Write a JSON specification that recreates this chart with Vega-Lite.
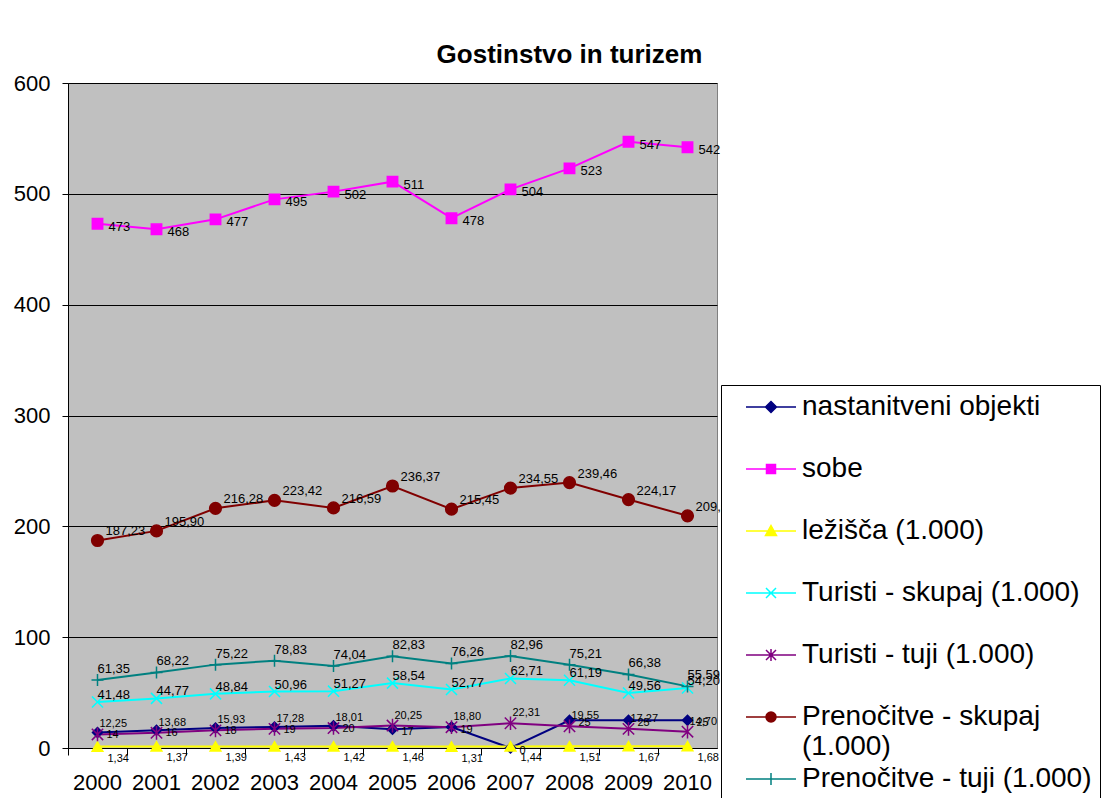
{
  "$schema": "https://vega.github.io/schema/vega-lite/v6.json",
  "width": 649,
  "height": 665,
  "autosize": {"type": "none"},
  "padding": {"left": 68, "top": 83, "right": 395, "bottom": 50},
  "background": "white",
  "title": {"text": "Gostinstvo in turizem", "font": "Liberation Sans", "fontSize": 26, "fontWeight": "bold", "color": "black", "anchor": "middle", "dx": 177, "dy": 37, "offset": 20, "baseline": "alphabetic"},
  "config": {"view": {"fill": "#C0C0C0", "stroke": "#808080", "strokeWidth": 1}, "font": "Liberation Sans"},
  "data": {"values": [
    {"year": "2000", "s": "nastanitveni objekti", "v": 14},
    {"year": "2001", "s": "nastanitveni objekti", "v": 16},
    {"year": "2002", "s": "nastanitveni objekti", "v": 18},
    {"year": "2003", "s": "nastanitveni objekti", "v": 19},
    {"year": "2004", "s": "nastanitveni objekti", "v": 20},
    {"year": "2005", "s": "nastanitveni objekti", "v": 17},
    {"year": "2006", "s": "nastanitveni objekti", "v": 19},
    {"year": "2007", "s": "nastanitveni objekti", "v": 0},
    {"year": "2008", "s": "nastanitveni objekti", "v": 25},
    {"year": "2009", "s": "nastanitveni objekti", "v": 25},
    {"year": "2010", "s": "nastanitveni objekti", "v": 25},
    {"year": "2000", "s": "sobe", "v": 473},
    {"year": "2001", "s": "sobe", "v": 468},
    {"year": "2002", "s": "sobe", "v": 477},
    {"year": "2003", "s": "sobe", "v": 495},
    {"year": "2004", "s": "sobe", "v": 502},
    {"year": "2005", "s": "sobe", "v": 511},
    {"year": "2006", "s": "sobe", "v": 478},
    {"year": "2007", "s": "sobe", "v": 504},
    {"year": "2008", "s": "sobe", "v": 523},
    {"year": "2009", "s": "sobe", "v": 547},
    {"year": "2010", "s": "sobe", "v": 542},
    {"year": "2000", "s": "ležišča (1.000)", "v": 1.34},
    {"year": "2001", "s": "ležišča (1.000)", "v": 1.37},
    {"year": "2002", "s": "ležišča (1.000)", "v": 1.39},
    {"year": "2003", "s": "ležišča (1.000)", "v": 1.43},
    {"year": "2004", "s": "ležišča (1.000)", "v": 1.42},
    {"year": "2005", "s": "ležišča (1.000)", "v": 1.46},
    {"year": "2006", "s": "ležišča (1.000)", "v": 1.31},
    {"year": "2007", "s": "ležišča (1.000)", "v": 1.44},
    {"year": "2008", "s": "ležišča (1.000)", "v": 1.51},
    {"year": "2009", "s": "ležišča (1.000)", "v": 1.67},
    {"year": "2010", "s": "ležišča (1.000)", "v": 1.68},
    {"year": "2000", "s": "Turisti - skupaj (1.000)", "v": 41.48},
    {"year": "2001", "s": "Turisti - skupaj (1.000)", "v": 44.77},
    {"year": "2002", "s": "Turisti - skupaj (1.000)", "v": 48.84},
    {"year": "2003", "s": "Turisti - skupaj (1.000)", "v": 50.96},
    {"year": "2004", "s": "Turisti - skupaj (1.000)", "v": 51.27},
    {"year": "2005", "s": "Turisti - skupaj (1.000)", "v": 58.54},
    {"year": "2006", "s": "Turisti - skupaj (1.000)", "v": 52.77},
    {"year": "2007", "s": "Turisti - skupaj (1.000)", "v": 62.71},
    {"year": "2008", "s": "Turisti - skupaj (1.000)", "v": 61.19},
    {"year": "2009", "s": "Turisti - skupaj (1.000)", "v": 49.56},
    {"year": "2010", "s": "Turisti - skupaj (1.000)", "v": 54.20},
    {"year": "2000", "s": "Turisti - tuji (1.000)", "v": 12.25},
    {"year": "2001", "s": "Turisti - tuji (1.000)", "v": 13.68},
    {"year": "2002", "s": "Turisti - tuji (1.000)", "v": 15.93},
    {"year": "2003", "s": "Turisti - tuji (1.000)", "v": 17.28},
    {"year": "2004", "s": "Turisti - tuji (1.000)", "v": 18.01},
    {"year": "2005", "s": "Turisti - tuji (1.000)", "v": 20.25},
    {"year": "2006", "s": "Turisti - tuji (1.000)", "v": 18.80},
    {"year": "2007", "s": "Turisti - tuji (1.000)", "v": 22.31},
    {"year": "2008", "s": "Turisti - tuji (1.000)", "v": 19.55},
    {"year": "2009", "s": "Turisti - tuji (1.000)", "v": 17.27},
    {"year": "2010", "s": "Turisti - tuji (1.000)", "v": 14.70},
    {"year": "2000", "s": "Prenočitve - skupaj (1.000)", "v": 187.23},
    {"year": "2001", "s": "Prenočitve - skupaj (1.000)", "v": 195.90},
    {"year": "2002", "s": "Prenočitve - skupaj (1.000)", "v": 216.28},
    {"year": "2003", "s": "Prenočitve - skupaj (1.000)", "v": 223.42},
    {"year": "2004", "s": "Prenočitve - skupaj (1.000)", "v": 216.59},
    {"year": "2005", "s": "Prenočitve - skupaj (1.000)", "v": 236.37},
    {"year": "2006", "s": "Prenočitve - skupaj (1.000)", "v": 215.45},
    {"year": "2007", "s": "Prenočitve - skupaj (1.000)", "v": 234.55},
    {"year": "2008", "s": "Prenočitve - skupaj (1.000)", "v": 239.46},
    {"year": "2009", "s": "Prenočitve - skupaj (1.000)", "v": 224.17},
    {"year": "2010", "s": "Prenočitve - skupaj (1.000)", "v": 209.50},
    {"year": "2000", "s": "Prenočitve - tuji (1.000)", "v": 61.35},
    {"year": "2001", "s": "Prenočitve - tuji (1.000)", "v": 68.22},
    {"year": "2002", "s": "Prenočitve - tuji (1.000)", "v": 75.22},
    {"year": "2003", "s": "Prenočitve - tuji (1.000)", "v": 78.83},
    {"year": "2004", "s": "Prenočitve - tuji (1.000)", "v": 74.04},
    {"year": "2005", "s": "Prenočitve - tuji (1.000)", "v": 82.83},
    {"year": "2006", "s": "Prenočitve - tuji (1.000)", "v": 76.26},
    {"year": "2007", "s": "Prenočitve - tuji (1.000)", "v": 82.96},
    {"year": "2008", "s": "Prenočitve - tuji (1.000)", "v": 75.21},
    {"year": "2009", "s": "Prenočitve - tuji (1.000)", "v": 66.38},
    {"year": "2010", "s": "Prenočitve - tuji (1.000)", "v": 55.59}
  ]},
  "transform": [
    {"calculate": "indexof(['sobe','nastanitveni objekti'], datum.s) >= 0 ? format(datum.v, 'd') : replace(format(datum.v, '.2f'), '.', ',')", "as": "t"},
    {"calculate": "datum.s", "as": "sh"}
  ],
  "encoding": {
    "x": {"field": "year", "type": "ordinal", "scale": {"type": "band", "paddingInner": 0, "paddingOuter": 0},
      "axis": {"title": null, "labelAngle": 0, "labelFontSize": 22, "labelFont": "Liberation Sans", "labelColor": "black", "domainColor": "black", "domainWidth": 1, "tickColor": "black", "tickSize": 7, "labelPadding": 17, "bandPosition": 0, "grid": false}},
    "y": {"field": "v", "type": "quantitative", "scale": {"domain": [0, 600], "nice": false, "zero": true},
      "axis": {"title": null, "values": [0, 100, 200, 300, 400, 500, 600], "grid": true, "gridColor": "black", "gridWidth": 1, "gridOpacity": 1, "domainColor": "black", "domainWidth": 1, "tickColor": "black", "tickSize": 6, "labelFontSize": 22, "labelFont": "Liberation Sans", "labelColor": "black", "labelPadding": 12}}
  },
  "layer": [
    {
      "mark": {"type": "line", "strokeWidth": 2},
      "encoding": {
        "color": {"field": "s", "type": "nominal",
          "scale": {"domain": ["nastanitveni objekti", "sobe", "ležišča (1.000)", "Turisti - skupaj (1.000)", "Turisti - tuji (1.000)", "Prenočitve - skupaj (1.000)", "Prenočitve - tuji (1.000)"],
            "range": ["#000080", "#FF00FF", "#FFFF00", "#00FFFF", "#800080", "#800000", "#008080"]},
          "legend": {"title": null, "orient": "none", "legendX": 653, "legendY": 302, "fillColor": "white", "strokeColor": "black", "padding": 8,
            "labelFontSize": 28, "labelFont": "Liberation Sans", "labelColor": "black", "labelLimit": 600, "symbolSize": 100, "symbolStrokeWidth": 1.5,
            "symbolOffset": 28, "labelOffset": 17, "rowPadding": 4, "gridAlign": "all",
            "labelExpr": "datum.label == 'Prenočitve - skupaj (1.000)' ? ['Prenočitve - skupaj', '(1.000)'] : datum.label",
            "encode": {"symbols": {"update": {
              "shape": {"signal": "datum.value == 'nastanitveni objekti' ? 'M-5,0L5,0M0,-1.1L1.1,0L0,1.1L-1.1,0Z' : datum.value == 'sobe' ? 'M-5,0L5,0M-0.9,-0.9L0.9,-0.9L0.9,0.9L-0.9,0.9Z' : datum.value == 'ležišča (1.000)' ? 'M-5,0L5,0M0,-1.1L1.1,0.9L-1.1,0.9Z' : datum.value == 'Turisti - skupaj (1.000)' ? 'M-5,0L5,0M-1,-1L1,1M1,-1L-1,1' : datum.value == 'Turisti - tuji (1.000)' ? 'M-5,0L5,0M-1,-1L1,1M1,-1L-1,1M0,-1.2L0,1.2' : datum.value == 'Prenočitve - skupaj (1.000)' ? 'M-5,0L5,0M-1,0A1,1,0,1,1,1,0A1,1,0,1,1,-1,0Z' : 'M-5,0L5,0M0,-1.2L0,1.2'"},
              "strokeWidth": {"value": 1.5}
            }}}
          }}
      }
    },
    {
      "mark": {"type": "point", "filled": true, "opacity": 1, "strokeWidth": 1.5},
      "encoding": {
        "color": {"field": "s", "type": "nominal"},
        "stroke": {"field": "s", "type": "nominal", "legend": null,
          "scale": {"domain": ["nastanitveni objekti", "sobe", "ležišča (1.000)", "Turisti - skupaj (1.000)", "Turisti - tuji (1.000)", "Prenočitve - skupaj (1.000)", "Prenočitve - tuji (1.000)"],
            "range": ["#000080", "#FF00FF", "#FFFF00", "#00FFFF", "#800080", "#800000", "#008080"]}},
        "shape": {"field": "sh", "type": "nominal", "legend": null,
          "scale": {"domain": ["Prenočitve - tuji (1.000)", "Prenočitve - skupaj (1.000)", "Turisti - tuji (1.000)", "Turisti - skupaj (1.000)", "ležišča (1.000)", "sobe", "nastanitveni objekti"],
            "range": ["M-1,0L1,0M0,-1L0,1", "circle", "M-1,-1L1,1M1,-1L-1,1M0,-1.2L0,1.2", "M-1,-1L1,1M1,-1L-1,1", "triangle-up", "square", "diamond"]}},
        "size": {"field": "sh", "type": "nominal", "legend": null,
          "scale": {"domain": ["Prenočitve - tuji (1.000)", "Prenočitve - skupaj (1.000)", "Turisti - tuji (1.000)", "Turisti - skupaj (1.000)", "ležišča (1.000)", "sobe", "nastanitveni objekti"],
            "range": [144, 100, 130, 130, 200, 110, 140]}}
      }
    },
    {
      "transform": [{"filter": "datum.s == 'sobe'"}],
      "mark": {"type": "text", "align": "left", "baseline": "middle", "dx": 11, "dy": 3, "fontSize": 13, "font": "Liberation Sans", "color": "black"},
      "encoding": {"text": {"field": "t"}}
    },
    {
      "transform": [{"filter": "datum.s == 'Prenočitve - skupaj (1.000)'"}],
      "mark": {"type": "text", "align": "left", "baseline": "middle", "dx": 8, "dy": -9, "fontSize": 13, "font": "Liberation Sans", "color": "black"},
      "encoding": {"text": {"field": "t"}}
    },
    {
      "transform": [{"filter": "datum.s == 'Prenočitve - tuji (1.000)'"}],
      "mark": {"type": "text", "align": "left", "baseline": "middle", "dx": 0, "dy": -11, "fontSize": 13, "font": "Liberation Sans", "color": "black"},
      "encoding": {"text": {"field": "t"}}
    },
    {
      "transform": [{"filter": "datum.s == 'Turisti - skupaj (1.000)'"}],
      "mark": {"type": "text", "align": "left", "baseline": "middle", "dx": 0, "dy": -7, "fontSize": 13, "font": "Liberation Sans", "color": "black"},
      "encoding": {"text": {"field": "t"}}
    },
    {
      "transform": [{"filter": "datum.s == 'Turisti - tuji (1.000)'"}],
      "mark": {"type": "text", "align": "left", "baseline": "middle", "dx": 2, "dy": -10, "fontSize": 11, "font": "Liberation Sans", "color": "black"},
      "encoding": {"text": {"field": "t"}}
    },
    {
      "transform": [{"filter": "datum.s == 'nastanitveni objekti'"}],
      "mark": {"type": "text", "align": "left", "baseline": "middle", "dx": 9, "dy": 3, "fontSize": 11, "font": "Liberation Sans", "color": "black"},
      "encoding": {"text": {"field": "t"}}
    },
    {
      "transform": [{"filter": "datum.s == 'ležišča (1.000)'"}],
      "mark": {"type": "text", "align": "left", "baseline": "middle", "dx": 10, "dy": 12, "fontSize": 11, "font": "Liberation Sans", "color": "black"},
      "encoding": {"text": {"field": "t"}}
    }
  ]
}
